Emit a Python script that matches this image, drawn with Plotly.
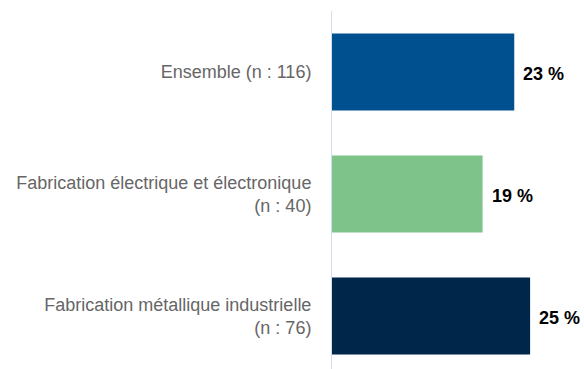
import plotly.graph_objects as go

# Share of firms per group (percent)
categories = [
    "Ensemble (n : 116)",
    "Fabrication électrique et électronique<br>(n : 40)",
    "Fabrication métallique industrielle<br>(n : 76)",
]
values = [23, 19, 25]
value_labels = ["23 %", "19 %", "25 %"]
bar_colors = ["#005090", "#7DC38A", "#00264A"]

positions = list(range(len(categories)))

fig = go.Figure(
    go.Bar(
        x=values,
        y=positions,
        orientation="h",
        marker=dict(color=bar_colors, line=dict(width=0)),
        width=0.63,
        hoverinfo="skip",
    )
)

# Value labels just past the end of each bar
for pos, val, lab in zip(positions, values, value_labels):
    fig.add_annotation(
        x=val, y=pos, text=lab, showarrow=False,
        xanchor="left", yanchor="middle", xshift=7, yshift=-2,
        font=dict(family="Liberation Sans, Arial, sans-serif", size=18, color="#000000"),
    )
fig.update_annotations(font_weight="bold")

fig.update_layout(
    width=584, height=369,
    margin=dict(l=332, r=0, t=11, b=0),
    paper_bgcolor="white", plot_bgcolor="white",
    showlegend=False,
    font=dict(family="Liberation Sans, Arial, sans-serif"),
    xaxis=dict(range=[0, 31.8], visible=False, fixedrange=True),
    yaxis=dict(
        range=[2.434, -0.5],
        tickmode="array", tickvals=positions, ticktext=categories,
        showgrid=False, zeroline=False,
        showline=True, linecolor="#D3DDEB", linewidth=1,
        ticks="", ticklabelstandoff=16,
        tickfont=dict(size=18, color="#666666"),
        fixedrange=True,
    ),
)

fig.write_html("out.html")
